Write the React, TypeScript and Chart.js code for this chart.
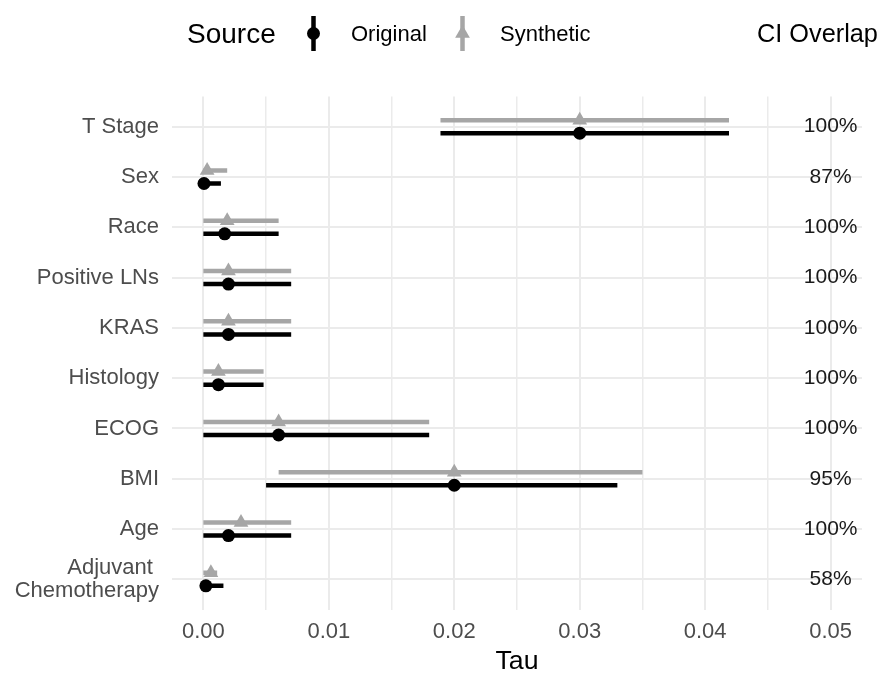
import React, { useEffect, useRef } from "react";
import { Chart, registerables } from "chart.js";

Chart.register(...registerables);

const CATEGORIES = [
  "T Stage",
  "Sex",
  "Race",
  "Positive LNs",
  "KRAS",
  "Histology",
  "ECOG",
  "BMI",
  "Age",
  "Adjuvant \nChemotherapy",
];
const ORIG_TAU = [0.03, 0.00005, 0.0017, 0.002, 0.002, 0.0012, 0.006, 0.02, 0.002, 0.0002];
const ORIG_LO = [0.0189, 0, 0, 0, 0, 0, 0, 0.005, 0, 0];
const ORIG_HI = [0.0419, 0.0014, 0.006, 0.007, 0.007, 0.0048, 0.018, 0.033, 0.007, 0.0016];
const SYN_TAU = [0.03, 0.0003, 0.0019, 0.002, 0.002, 0.0012, 0.006, 0.02, 0.003, 0.0006];
const SYN_LO = [0.0189, 0, 0, 0, 0, 0, 0, 0.006, 0, 0];
const SYN_HI = [0.0419, 0.0019, 0.006, 0.007, 0.007, 0.0048, 0.018, 0.035, 0.007, 0.0011];
const CI_OVERLAP = ["100%", "87%", "100%", "100%", "100%", "100%", "100%", "95%", "100%", "58%"];
const X_TICKS = [0, 0.005, 0.01, 0.015, 0.02, 0.025, 0.03, 0.035, 0.04, 0.045, 0.05];
const X_TICK_LABELS = ["0.00", "", "0.01", "", "0.02", "", "0.03", "", "0.04", "", "0.05"];

const FONT = "'Liberation Sans', Arial, sans-serif";
const GRAY = "#a6a6a6";
const DODGE = 0.13;

function segments(lo: number[], hi: number[], off: number) {
  const out: any[] = [];
  lo.forEach((l, i) => {
    out.push({ x: l, y: i + off });
    out.push({ x: hi[i], y: i + off });
    out.push({ x: (l + hi[i]) / 2, y: null });
  });
  return out;
}

export default function App() {
  const ref = useRef<HTMLCanvasElement | null>(null);

  useEffect(() => {
    if (!ref.current) return;
    const overlay = {
      id: "overlay",
      afterDraw(chart: any) {
        const ctx = chart.ctx;
        const xs = chart.scales.x;
        const ys = chart.scales.y;
        ctx.save();
        // CI overlap labels
        ctx.fillStyle = "#1a1a1a";
        ctx.font = `21px ${FONT}`;
        ctx.textAlign = "center";
        ctx.textBaseline = "middle";
        CI_OVERLAP.forEach((t, i) => {
          ctx.fillText(t, xs.getPixelForValue(0.05), ys.getPixelForValue(i));
        });
        // x title
        ctx.fillStyle = "#000";
        ctx.font = `26.7px ${FONT}`;
        ctx.fillText("Tau", (chart.chartArea.left + chart.chartArea.right) / 2, 662);
        // legend
        ctx.textAlign = "left";
        ctx.font = `28px ${FONT}`;
        ctx.fillText("Source", 187, 35);
        ctx.font = `25.3px ${FONT}`;
        ctx.fillText("CI Overlap", 757, 35);
        ctx.font = `22px ${FONT}`;
        ctx.fillText("Original", 351, 35);
        ctx.fillText("Synthetic", 500, 35);
        // legend keys
        ctx.lineWidth = 4.5;
        ctx.strokeStyle = "#000";
        ctx.beginPath();
        ctx.moveTo(313.5, 16);
        ctx.lineTo(313.5, 51);
        ctx.stroke();
        ctx.fillStyle = "#000";
        ctx.beginPath();
        ctx.arc(313.5, 33.5, 6.5, 0, Math.PI * 2);
        ctx.fill();
        ctx.strokeStyle = GRAY;
        ctx.beginPath();
        ctx.moveTo(462.5, 16);
        ctx.lineTo(462.5, 51);
        ctx.stroke();
        ctx.fillStyle = GRAY;
        const r = 8.5;
        ctx.beginPath();
        ctx.moveTo(462.5, 33.5 - r);
        ctx.lineTo(462.5 + r * Math.sin(Math.PI / 3), 33.5 + r / 2);
        ctx.lineTo(462.5 - r * Math.sin(Math.PI / 3), 33.5 + r / 2);
        ctx.closePath();
        ctx.fill();
        ctx.restore();
      },
    };

    const chart = new Chart(ref.current, {
      type: "line",
      data: {
        datasets: [
          {
            type: "line",
            label: "Synthetic CI",
            data: segments(SYN_LO, SYN_HI, -DODGE),
            borderColor: GRAY,
            borderWidth: 4.5,
            borderCapStyle: "butt",
            pointRadius: 0,
            spanGaps: false,
            fill: false,
          },
          {
            type: "line",
            label: "Original CI",
            data: segments(ORIG_LO, ORIG_HI, DODGE),
            borderColor: "#000",
            borderWidth: 4.5,
            borderCapStyle: "butt",
            pointRadius: 0,
            spanGaps: false,
            fill: false,
          },
          {
            type: "scatter",
            label: "Synthetic",
            data: SYN_TAU.map((v, i) => ({ x: v, y: i - DODGE })),
            pointStyle: "triangle",
            pointRadius: 8.5,
            backgroundColor: GRAY,
            borderColor: GRAY,
            borderWidth: 0,
            showLine: false,
          },
          {
            type: "scatter",
            label: "Original",
            data: ORIG_TAU.map((v, i) => ({ x: v, y: i + DODGE })),
            pointStyle: "circle",
            pointRadius: 6.5,
            backgroundColor: "#000",
            borderColor: "#000",
            borderWidth: 0,
            showLine: false,
          },
        ],
      } as any,
      options: {
        animation: false,
        responsive: false,
        events: [],
        layout: { padding: { top: 96.5, right: 29, left: 0, bottom: 0 } },
        plugins: {
          legend: { display: false },
          tooltip: { enabled: false },
          title: { display: false },
        },
        scales: {
          x: {
            type: "linear",
            min: -0.0025,
            max: 0.0525,
            afterBuildTicks: (s: any) => {
              s.ticks = X_TICKS.map((v) => ({ value: v }));
            },
            afterFit: (s: any) => {
              s.height = 77.5;
            },
            ticks: {
              autoSkip: false,
              maxRotation: 0,
              padding: 9,
              color: "#4d4d4d",
              font: { family: FONT, size: 22, lineHeight: 1.2 },
              callback: (_v: any, i: number) => X_TICK_LABELS[i],
            },
            grid: {
              color: "#ebebeb",
              lineWidth: (c: any) => (c.index % 2 === 0 ? 2 : 1.5),
              drawTicks: false,
            },
            border: { display: false },
          },
          y: {
            type: "linear",
            min: -0.6,
            max: 9.6,
            reverse: true,
            afterBuildTicks: (s: any) => {
              s.ticks = CATEGORIES.map((_c, i) => ({ value: i }));
            },
            afterFit: (s: any) => {
              s.width = 172;
            },
            ticks: {
              autoSkip: false,
              padding: 13,
              color: "#4d4d4d",
              font: { family: FONT, size: 22, lineHeight: 1.08 },
              callback: (v: any) => CATEGORIES[Math.round(v)].split("\n"),
            },
            grid: {
              color: "#ebebeb",
              lineWidth: 2,
              drawTicks: false,
            },
            border: { display: false },
          },
        },
      } as any,
      plugins: [overlay],
    });
    return () => chart.destroy();
  }, []);

  return (
    <div style={{ position: "absolute", left: 0, top: 0, width: 891, height: 687, background: "#fff" }}>
      <canvas ref={ref} width={891} height={687} style={{ width: 891, height: 687 }} />
    </div>
  );
}
